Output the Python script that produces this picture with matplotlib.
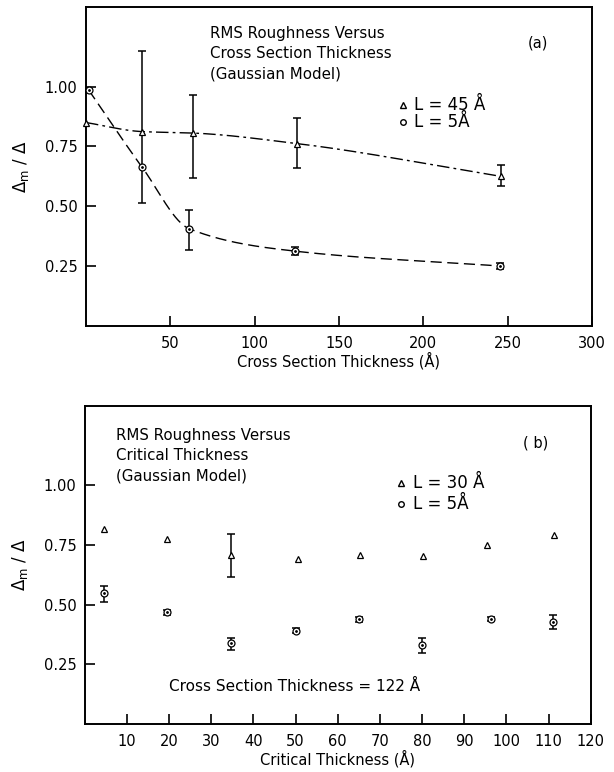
import matplotlib
matplotlib.use('Agg')
import matplotlib.pyplot as plt
import numpy as np

# ---- panel (a): roughness vs cross section thickness ----
thick_tri = [0.0, 33.4, 63.4, 125.1, 245.9]
rough_tri = [0.850, 0.812, 0.806, 0.762, 0.625]
tri_err_lo = [0.0, 0.298, 0.188, 0.104, 0.039]
tri_err_hi = [0.0, 0.339, 0.159, 0.107, 0.049]

thick_circ = [1.6, 33.4, 61.2, 124.2, 245.3]
rough_circ = [0.986, 0.662, 0.406, 0.312, 0.250]
circ_err_lo = [0.0, 0.0, 0.088, 0.015, 0.012]
circ_err_hi = [0.0, 0.0, 0.079, 0.017, 0.012]

# ---- panel (b): roughness vs critical thickness ----
crit_tri = [4.5, 19.4, 34.8, 50.5, 65.4, 80.2, 95.5, 111.3]
rough_b_tri = [0.816, 0.777, 0.708, 0.691, 0.708, 0.702, 0.748, 0.791]
b_tri_err_lo = [0.0, 0.0, 0.093, 0.0, 0.0, 0.0, 0.0, 0.0]
b_tri_err_hi = [0.0, 0.0, 0.086, 0.0, 0.0, 0.0, 0.0, 0.0]

crit_circ = [4.5, 19.4, 34.8, 50.2, 65.1, 80.0, 96.3, 111.1]
rough_b_circ = [0.548, 0.469, 0.339, 0.392, 0.439, 0.332, 0.440, 0.427]
b_circ_err_lo = [0.035, 0.010, 0.030, 0.010, 0.010, 0.034, 0.010, 0.030]
b_circ_err_hi = [0.031, 0.010, 0.022, 0.010, 0.010, 0.028, 0.010, 0.028]

ytick_vals = [0.25, 0.50, 0.75, 1.00]
xticks_a = [50, 100, 150, 200, 250, 300]
xticks_b = [10, 20, 30, 40, 50, 60, 70, 80, 90, 100, 110, 120]

plt.rcParams['font.family'] = ['DejaVu Sans']
plt.rcParams['mathtext.default'] = 'regular'


def pchip(x, y, xs):
    '''
    Monotone cubic (Fritsch-Carlson) through the points, used for the hand-drawn guide curves.
    '''
    x = np.asarray(x, float); y = np.asarray(y, float)
    h = np.diff(x); d = np.diff(y) / h
    m = np.zeros(len(x))
    m[0], m[-1] = d[0], d[-1]
    for k in range(1, len(x) - 1):
        if d[k - 1] * d[k] > 0:
            w1 = 2 * h[k] + h[k - 1]; w2 = h[k] + 2 * h[k - 1]
            m[k] = (w1 + w2) / (w1 / d[k - 1] + w2 / d[k])
    idx = np.clip(np.searchsorted(x, xs) - 1, 0, len(x) - 2)
    t = (xs - x[idx]) / h[idx]
    h00 = 2 * t**3 - 3 * t**2 + 1; h10 = t**3 - 2 * t**2 + t
    h01 = -2 * t**3 + 3 * t**2; h11 = t**3 - t**2
    return h00 * y[idx] + h10 * h[idx] * m[idx] + h01 * y[idx + 1] + h11 * h[idx] * m[idx + 1]


def draw_points(ax, x, y, lo, hi, marker):
    '''
    Open markers plus error bars (only where an error was reported).
    '''
    x = np.asarray(x); y = np.asarray(y); lo = np.asarray(lo); hi = np.asarray(hi)
    has = (lo + hi) > 0
    ax.errorbar(x[has], y[has], yerr=[lo[has], hi[has]], fmt='none', ecolor='black',
                elinewidth=1.1, capsize=3, capthick=1.1, clip_on=False, zorder=3)
    ax.plot(x, y, linestyle='none', marker=marker, markersize=5, markerfacecolor='white',
            markeredgecolor='black', markeredgewidth=0.9, clip_on=False, zorder=4)
    if marker == 'o':
        ax.plot(x, y, linestyle='none', marker='.', markersize=2, color='black', zorder=5)


def style_axes(ax, xmax, xticks, xlabel):
    ax.set_xlim(0, xmax); ax.set_ylim(0, 4 / 3)
    ax.set_xticks(xticks); ax.set_xticklabels([str(t) for t in xticks])
    ax.set_yticks(ytick_vals); ax.set_yticklabels(['%.2f' % v for v in ytick_vals])
    ax.tick_params(direction='in', length=7, width=1.2, labelsize=10.5, pad=6,
                   top=False, right=False)
    ax.tick_params(axis='x', pad=7)
    for s in ax.spines.values():
        s.set_linewidth(1.4)
    ax.set_xlabel(xlabel, fontsize=10.5, labelpad=1)
    ax.set_ylabel(r'$\Delta_m\ /\ \Delta$', fontsize=12, labelpad=10)


def legend_block(ax, y1, y2, label1, label2):
    ax.plot([0.626], [y1], transform=ax.transAxes, marker='^', markersize=4.5,
            markerfacecolor='white', markeredgecolor='black', linestyle='none')
    ax.plot([0.626], [y2], transform=ax.transAxes, marker='o', markersize=4,
            markerfacecolor='white', markeredgecolor='black', linestyle='none')
    ax.text(0.648, y1, label1, transform=ax.transAxes, fontsize=12, va='center')
    ax.text(0.648, y2, label2, transform=ax.transAxes, fontsize=12, va='center')


fig = plt.figure(figsize=(6.14, 7.72), dpi=100)

# panel (a)
ax_a = fig.add_axes([0.140, 0.578, 0.824, 0.413])
xs = np.linspace(thick_tri[0], thick_tri[-1], 300)
ax_a.plot(xs, pchip(thick_tri, rough_tri, xs), color='black', linewidth=1.0,
          dashes=(9, 3, 2, 3), zorder=2)
xs = np.linspace(thick_circ[0], thick_circ[-1], 300)
ax_a.plot(xs, pchip(thick_circ, rough_circ, xs), color='black', linewidth=1.0,
          dashes=(8, 4), zorder=2)
draw_points(ax_a, thick_tri, rough_tri, tri_err_lo, tri_err_hi, '^')
draw_points(ax_a, thick_circ, rough_circ, circ_err_lo, circ_err_hi, 'o')
style_axes(ax_a, 300, xticks_a, 'Cross Section Thickness (Å)')
ax_a.text(0.245, 0.94, 'RMS Roughness Versus\nCross Section Thickness\n(Gaussian Model)',
          transform=ax_a.transAxes, fontsize=10.8, va='top', linespacing=1.45)
ax_a.text(0.893, 0.887, '(a)', transform=ax_a.transAxes, fontsize=10.5, ha='center', va='center')
legend_block(ax_a, 0.693, 0.638, 'L = 45 Å', 'L = 5Å')

# panel (b)
ax_b = fig.add_axes([0.138, 0.0620, 0.824, 0.4125])
draw_points(ax_b, crit_tri, rough_b_tri, b_tri_err_lo, b_tri_err_hi, '^')
draw_points(ax_b, crit_circ, rough_b_circ, b_circ_err_lo, b_circ_err_hi, 'o')
style_axes(ax_b, 120, xticks_b, 'Critical Thickness (Å)')
ax_b.text(0.061, 0.93, 'RMS Roughness Versus\nCritical Thickness\n(Gaussian Model)',
          transform=ax_b.transAxes, fontsize=10.8, va='top', linespacing=1.45)
ax_b.text(0.891, 0.884, '( b)', transform=ax_b.transAxes, fontsize=10.5, ha='center', va='center')
legend_block(ax_b, 0.756, 0.69, 'L = 30 Å', 'L = 5Å')
ax_b.text(0.415, 0.119, 'Cross Section Thickness = 122 Å', transform=ax_b.transAxes,
          fontsize=11, ha='center', va='center')

fig.savefig('out.png', dpi=100)
